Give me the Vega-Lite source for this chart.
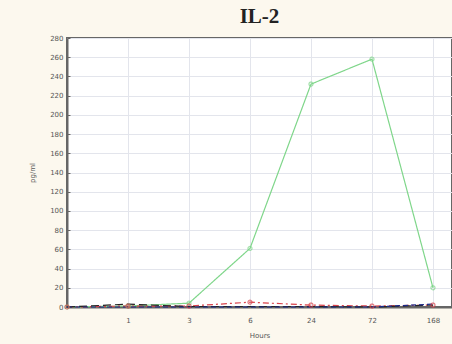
{
  "$schema": "https://vega.github.io/schema/vega-lite/v6.json",
  "width": 385,
  "height": 269,
  "autosize": "none",
  "padding": {"left": 67, "top": 38, "right": 0, "bottom": 37},
  "background": "#fcf8ee",
  "title": {
    "text": "IL-2",
    "font": "Liberation Serif",
    "fontSize": 21,
    "fontWeight": "bold",
    "color": "#222222",
    "anchor": "middle",
    "offset": 7
  },
  "config": {
    "view": {"fill": "white", "stroke": "#666666", "strokeWidth": 2},
    "axis": {
      "labelFont": "DejaVu Sans",
      "labelFontSize": 7,
      "labelColor": "#555555",
      "titleFont": "DejaVu Sans",
      "titleFontSize": 7,
      "titleFontWeight": "normal",
      "titleColor": "#555555",
      "gridColor": "#e3e5ec",
      "gridWidth": 1,
      "domainColor": "#666666",
      "domainWidth": 2,
      "tickColor": "#666666"
    }
  },
  "data": {
    "values": [
      {"series": "A", "Hours": "0", "value": 0},
      {"series": "A", "Hours": "1", "value": 1},
      {"series": "A", "Hours": "3", "value": 4},
      {"series": "A", "Hours": "6", "value": 61},
      {"series": "A", "Hours": "24", "value": 232},
      {"series": "A", "Hours": "72", "value": 258},
      {"series": "A", "Hours": "168", "value": 20},
      {"series": "B", "Hours": "0", "value": 0},
      {"series": "B", "Hours": "1", "value": 1},
      {"series": "B", "Hours": "3", "value": 1},
      {"series": "B", "Hours": "6", "value": 5},
      {"series": "B", "Hours": "24", "value": 2},
      {"series": "B", "Hours": "72", "value": 1},
      {"series": "B", "Hours": "168", "value": 2},
      {"series": "C", "Hours": "0", "value": 0},
      {"series": "C", "Hours": "1", "value": 3},
      {"series": "C", "Hours": "3", "value": 0.5},
      {"series": "C", "Hours": "6", "value": 0.5},
      {"series": "C", "Hours": "24", "value": 0.5},
      {"series": "C", "Hours": "72", "value": 0},
      {"series": "C", "Hours": "168", "value": 2},
      {"series": "D", "Hours": "0", "value": 0},
      {"series": "D", "Hours": "1", "value": 0},
      {"series": "D", "Hours": "3", "value": 0},
      {"series": "D", "Hours": "6", "value": 0},
      {"series": "D", "Hours": "24", "value": 0},
      {"series": "D", "Hours": "72", "value": 0},
      {"series": "D", "Hours": "168", "value": 3}
    ]
  },
  "encoding": {
    "x": {
      "field": "Hours",
      "type": "ordinal",
      "sort": ["0", "1", "3", "6", "24", "72", "168"],
      "scale": {"type": "point", "padding": 0.156, "align": 0},
      "axis": {
        "title": "Hours",
        "labelAngle": 0,
        "labelExpr": "datum.value == '0' ? '' : datum.label",
        "tickSize": 0,
        "labelPadding": 9,
        "titlePadding": 8,
        "grid": true
      }
    },
    "y": {
      "field": "value",
      "type": "quantitative",
      "scale": {"domain": [0, 280], "nice": false},
      "axis": {
        "title": "pg/ml",
        "values": [0, 20, 40, 60, 80, 100, 120, 140, 160, 180, 200, 220, 240, 260, 280],
        "tickSize": -3,
        "labelPadding": 7,
        "titlePadding": 14,
        "grid": true
      }
    },
    "color": {
      "field": "series",
      "type": "nominal",
      "scale": {"domain": ["A", "B", "C", "D"], "range": ["#7fd68a", "#d9424a", "#222222", "#1a2a8a"]},
      "legend": null
    },
    "strokeDash": {
      "field": "series",
      "type": "nominal",
      "scale": {"domain": ["A", "B", "C", "D"], "range": [[1, 0], [6, 3, 2, 3], [8, 4], [5, 3]]},
      "legend": null
    }
  },
  "layer": [
    {"mark": {"type": "line", "strokeWidth": 1.2}},
    {
      "transform": [{"filter": "datum.series == 'A' || datum.series == 'B'"}],
      "mark": {"type": "point", "filled": false, "size": 16, "strokeWidth": 1.2},
      "encoding": {"strokeDash": {"value": [1, 0]}}
    }
  ]
}
